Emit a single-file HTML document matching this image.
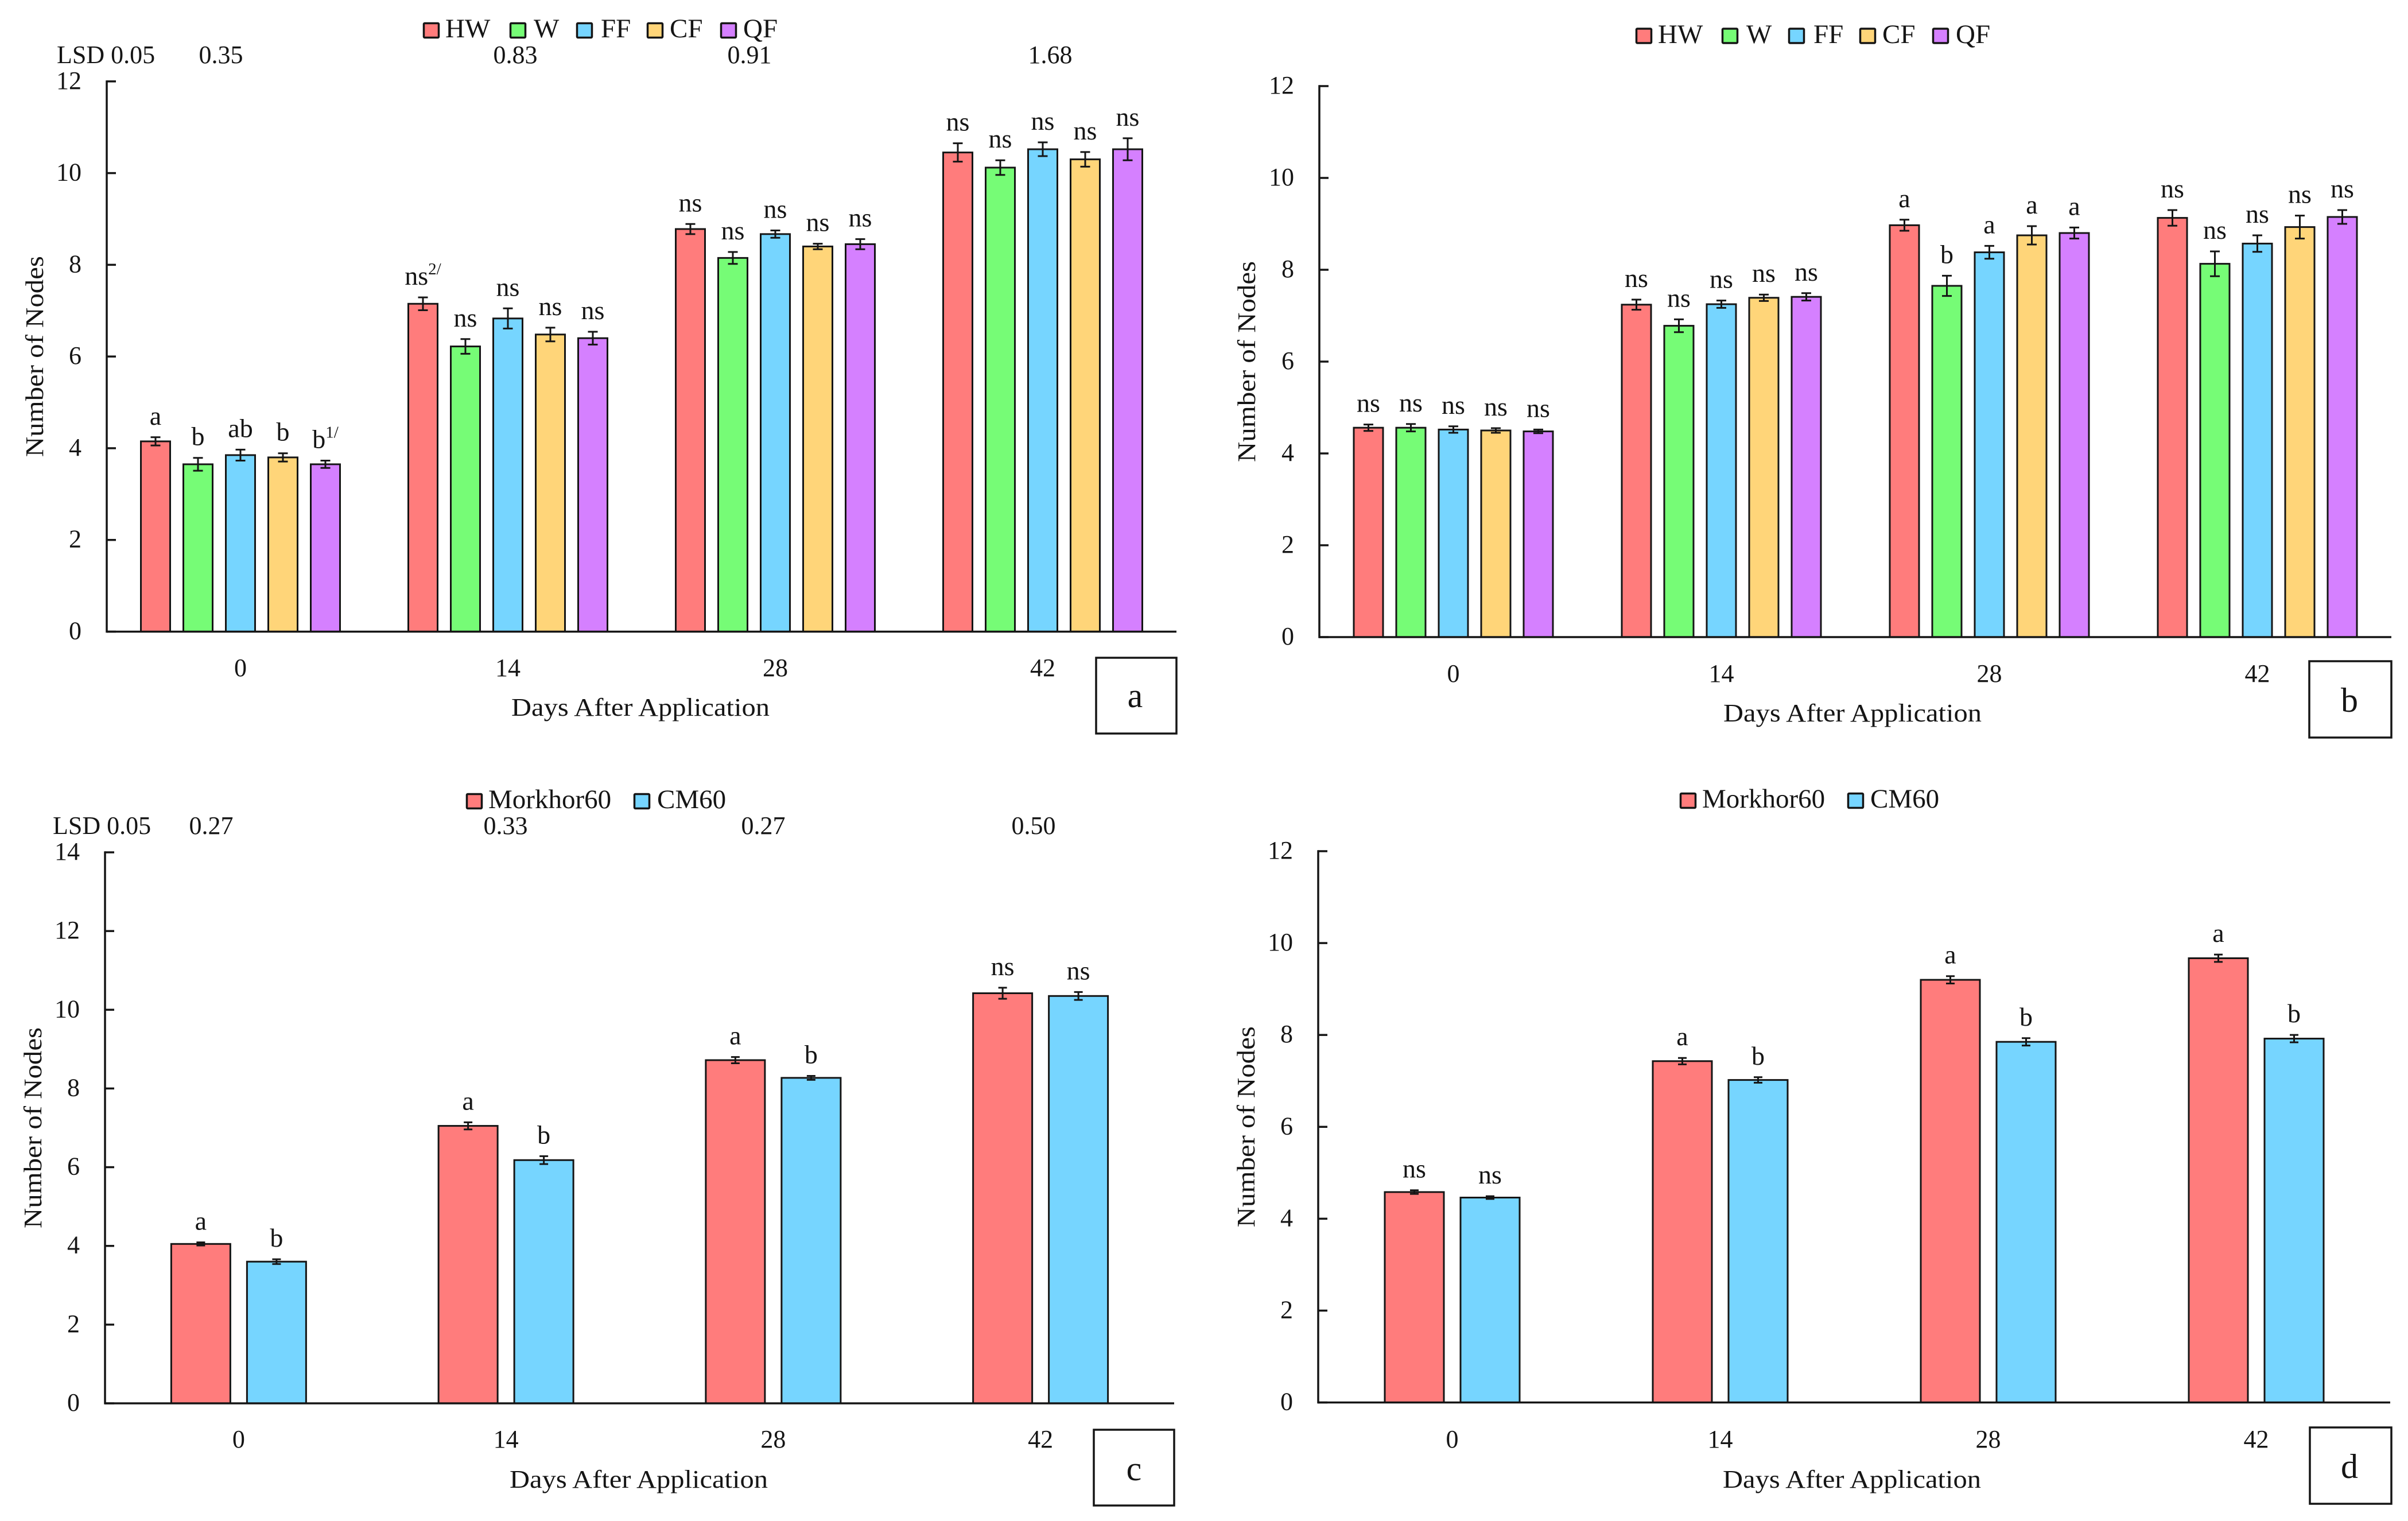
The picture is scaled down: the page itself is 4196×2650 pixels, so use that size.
<!DOCTYPE html>
<html lang="en">
<head>
<meta charset="utf-8">
<title>Number of Nodes by Days After Application</title>
<style>
html,body{margin:0;padding:0;background:#fff;width:4196px;height:2650px;overflow:hidden}
svg{display:block}
text{font-family:"Liberation Serif",serif;fill:#151515}
</style>
</head>
<body>
<svg id="chart" xmlns="http://www.w3.org/2000/svg" width="4196" height="2650" viewBox="0 0 4196 2650"></svg>
<script>
// ---- shared categories ----
const categories = ['0', '14', '28', '42'];
const seriesFive = ['HW', 'W', 'FF', 'CF', 'QF'];
const seriesTwo = ['Morkhor60', 'CM60'];
const ticksTwelve = [0, 2, 4, 6, 8, 10, 12];
const ticksFourteen = [0, 2, 4, 6, 8, 10, 12, 14];

// ---- panel a ----
const aHW = [4.15, 7.15, 8.78, 10.45];
const aW  = [3.65, 6.22, 8.15, 10.12];
const aFF = [3.85, 6.83, 8.67, 10.52];
const aCF = [3.80, 6.48, 8.40, 10.30];
const aQF = [3.65, 6.40, 8.45, 10.52];
const aErrHW = [0.09, 0.14, 0.11, 0.20];
const aErrW  = [0.14, 0.16, 0.13, 0.16];
const aErrFF = [0.12, 0.22, 0.08, 0.15];
const aErrCF = [0.09, 0.15, 0.06, 0.16];
const aErrQF = [0.08, 0.14, 0.11, 0.24];
const aSigHW = ['a', 'ns^2/', 'ns', 'ns'];
const aSigW  = ['b', 'ns', 'ns', 'ns'];
const aSigFF = ['ab', 'ns', 'ns', 'ns'];
const aSigCF = ['b', 'ns', 'ns', 'ns'];
const aSigQF = ['b^1/', 'ns', 'ns', 'ns'];
const aLsd = ['0.35', '0.83', '0.91', '1.68'];

// ---- panel b ----
const bHW = [4.56, 7.24, 8.97, 9.13];
const bW  = [4.56, 6.78, 7.65, 8.13];
const bFF = [4.52, 7.25, 8.38, 8.57];
const bCF = [4.50, 7.39, 8.75, 8.93];
const bQF = [4.48, 7.41, 8.80, 9.15];
const bErrHW = [0.07, 0.11, 0.12, 0.17];
const bErrW  = [0.08, 0.14, 0.22, 0.27];
const bErrFF = [0.07, 0.08, 0.14, 0.18];
const bErrCF = [0.05, 0.07, 0.20, 0.25];
const bErrQF = [0.04, 0.08, 0.12, 0.15];
const bSigHW = ['ns', 'ns', 'a', 'ns'];
const bSigW  = ['ns', 'ns', 'b', 'ns'];
const bSigFF = ['ns', 'ns', 'a', 'ns'];
const bSigCF = ['ns', 'ns', 'a', 'ns'];
const bSigQF = ['ns', 'ns', 'a', 'ns'];

// ---- panel c ----
const cMorkhor = [4.05, 7.05, 8.72, 10.42];
const cCM = [3.60, 6.18, 8.27, 10.35];
const cErrMorkhor = [0.04, 0.09, 0.08, 0.14];
const cErrCM = [0.06, 0.10, 0.05, 0.10];
const cSigMorkhor = ['a', 'a', 'a', 'ns'];
const cSigCM = ['b', 'b', 'b', 'ns'];
const cLsd = ['0.27', '0.33', '0.27', '0.50'];

// ---- panel d ----
const dMorkhor = [4.58, 7.43, 9.20, 9.67];
const dCM = [4.46, 7.02, 7.85, 7.92];
const dErrMorkhor = [0.04, 0.07, 0.08, 0.08];
const dErrCM = [0.03, 0.06, 0.08, 0.08];
const dSigMorkhor = ['ns', 'a', 'a', 'a'];
const dSigCM = ['ns', 'b', 'b', 'b'];

const RED = '#FF7C7C', GREEN = '#76FC76', BLUE = '#76D5FF', ORANGE = '#FFD579', PURPLE = '#D580FF';
const INK = '#151515';
const root = document.getElementById('chart');

function make(parent, tag, attrs, txt) {
  const n = document.createElementNS('http://www.w3.org/2000/svg', tag);
  for (const k in attrs) n.setAttribute(k, attrs[k]);
  if (txt !== undefined) n.textContent = txt;
  parent.appendChild(n);
  return n;
}

function drawPanel(p) {
  const g = make(root, 'g', {});
  
  

  const yScale = v => p.yBase - (v / p.yMax) * (p.yBase - p.yTop);
  const xGroup = i => p.x0 + (i + 0.5) * (p.x1 - p.x0) / categories.length;
  const xBar = (i, s) => xGroup(i) + (s - (p.series.length - 1) / 2) * p.pitch;

  // bars, error bars, significance letters
  p.series.forEach((name, s) => {
    categories.forEach((cat, i) => {
      const v = p.values[s][i], e = p.errors[s][i];
      const cx = xBar(i, s), top = yScale(v), errTop = yScale(v + e), errBot = yScale(v - e);
      const bar = make(g, 'rect', {x: cx - p.barW / 2, y: top, width: p.barW, height: yScale(0) - top, fill: p.colors[s], stroke: INK, 'stroke-width': 3});
      
      
      const err = make(g, 'path', {d: 'M' + (cx - p.cap) + ' ' + errTop + 'H' + (cx + p.cap) + 'M' + cx + ' ' + errTop + 'V' + errBot + 'M' + (cx - p.cap) + ' ' + errBot + 'H' + (cx + p.cap), fill: 'none', stroke: INK, 'stroke-width': 3});
      
      
      const parts = p.sig[s][i].split('^');
      const lab = make(g, 'text', {x: cx, y: errTop - 22, 'text-anchor': 'middle', 'font-size': 46});
      
      
      make(lab, 'tspan', {}, parts[0]);
      if (parts[1]) make(lab, 'tspan', {dy: -18, 'font-size': 29}, parts[1]);
    });
  });

  // axes
  const yAxis = make(g, 'line', {x1: p.x0, x2: p.x0, y1: p.yTop - 1.7, y2: p.yBase + 1.7, stroke: INK, 'stroke-width': 3.5});
  
  
  const xAxis = make(g, 'line', {x1: p.x0, x2: p.x1, y1: p.yBase, y2: p.yBase, stroke: INK, 'stroke-width': 3.5});
  
  

  p.ticks.forEach(t => {
    const tick = make(g, 'line', {x1: p.x0, x2: p.x0 + 16, y1: yScale(t), y2: yScale(t), stroke: INK, 'stroke-width': 3.5});
    
    
    const lab = make(g, 'text', {x: p.x0 - 44, y: yScale(t) + 13, 'text-anchor': 'end', 'font-size': 44}, String(t));
    
    
  });

  categories.forEach((cat, i) => {
    const lab = make(g, 'text', {x: xGroup(i), y: p.xLabelY, 'text-anchor': 'middle', 'font-size': 44}, cat);
    
    
  });

  const xTitle = make(g, 'text', {x: p.xTitleX, y: p.xTitleY, 'text-anchor': 'middle', 'font-size': 44, textLength: 450, lengthAdjust: 'spacingAndGlyphs'}, 'Days After Application');
  
  

  const yMid = (p.yTop + p.yBase) / 2;
  const yTitle = make(g, 'text', {transform: 'translate(' + p.yTitleX + ' ' + yMid + ') rotate(-90)', 'text-anchor': 'middle', 'font-size': 44, textLength: 350, lengthAdjust: 'spacingAndGlyphs'}, 'Number of Nodes');
  
  

  // panel letter box
  const box = make(g, 'rect', {x: p.box.x, y: p.box.y, width: p.box.w, height: p.box.h, fill: '#fff', stroke: INK, 'stroke-width': 3.5});
  
  
  const letter = make(g, 'text', {x: p.box.tx, y: p.box.ty, 'text-anchor': 'middle', 'font-size': 60}, p.id);
  
  

  return g;
}

function legendEntry(g, panelId, name, color, swatchX, swatchY, textX, textY) {
  const sw = make(g, 'rect', {x: swatchX + 1.5, y: swatchY + 1.5, width: 26, height: 25, fill: color, stroke: INK, 'stroke-width': 3.5, rx: 1.5});
  
  
  const t = make(g, 'text', {x: textX, y: textY, 'font-size': 47}, name);
  
  
}

function lsdLabel(g, panelId, text, x, y, anchor) {
  const t = make(g, 'text', {x: x, y: y, 'text-anchor': anchor, 'font-size': 44}, text);
  
  
}

const fiveColors = [RED, GREEN, BLUE, ORANGE, PURPLE];
const twoColors = [RED, BLUE];
const fiveGeom = {pitch: 74, barW: 51, cap: 8.5};
const twoGeom = {pitch: 132, barW: 103, cap: 7.5};

const gA = drawPanel(Object.assign({
  id: 'a', x0: 186, x1: 2050, yTop: 141.8, yBase: 1100.5, yMax: 12, ticks: ticksTwelve,
  series: seriesFive, colors: fiveColors,
  values: [aHW, aW, aFF, aCF, aQF], errors: [aErrHW, aErrW, aErrFF, aErrCF, aErrQF],
  sig: [aSigHW, aSigW, aSigFF, aSigCF, aSigQF],
  xLabelY: 1178, xTitleX: 1116, xTitleY: 1247, yTitleX: 75,
  box: {x: 1910, y: 1146, w: 140, h: 132, tx: 1978, ty: 1232}
}, fiveGeom));

const gB = drawPanel(Object.assign({
  id: 'b', x0: 2299, x1: 4167, yTop: 150, yBase: 1110, yMax: 12, ticks: ticksTwelve,
  series: seriesFive, colors: fiveColors,
  values: [bHW, bW, bFF, bCF, bQF], errors: [bErrHW, bErrW, bErrFF, bErrCF, bErrQF],
  sig: [bSigHW, bSigW, bSigFF, bSigCF, bSigQF],
  xLabelY: 1188, xTitleX: 3228, xTitleY: 1257, yTitleX: 2187,
  box: {x: 4024, y: 1152, w: 143, h: 133, tx: 4094, ty: 1240}
}, fiveGeom));

const gC = drawPanel(Object.assign({
  id: 'c', x0: 183, x1: 2046, yTop: 1485, yBase: 2445, yMax: 14, ticks: ticksFourteen,
  series: seriesTwo, colors: twoColors,
  values: [cMorkhor, cCM], errors: [cErrMorkhor, cErrCM],
  sig: [cSigMorkhor, cSigCM],
  xLabelY: 2522, xTitleX: 1113, xTitleY: 2592, yTitleX: 72,
  box: {x: 1906, y: 2491, w: 140, h: 132, tx: 1976, ty: 2579}
}, twoGeom));

const gD = drawPanel(Object.assign({
  id: 'd', x0: 2297, x1: 4165, yTop: 1483, yBase: 2443.5, yMax: 12, ticks: ticksTwelve,
  series: seriesTwo, colors: twoColors,
  values: [dMorkhor, dCM], errors: [dErrMorkhor, dErrCM],
  sig: [dSigMorkhor, dSigCM],
  xLabelY: 2522, xTitleX: 3227, xTitleY: 2592, yTitleX: 2186,
  box: {x: 4025, y: 2487, w: 142, h: 133, tx: 4094, ty: 2575}
}, twoGeom));

// legends
legendEntry(gA, 'a', 'HW', RED, 737, 39, 776, 65);
legendEntry(gA, 'a', 'W', GREEN, 888, 39, 930, 65);
legendEntry(gA, 'a', 'FF', BLUE, 1004, 39, 1047, 65);
legendEntry(gA, 'a', 'CF', ORANGE, 1127, 39, 1167, 65);
legendEntry(gA, 'a', 'QF', PURPLE, 1255, 39, 1295, 65);

legendEntry(gB, 'b', 'HW', RED, 2850, 48.5, 2889, 75);
legendEntry(gB, 'b', 'W', GREEN, 3000, 48.5, 3043, 75);
legendEntry(gB, 'b', 'FF', BLUE, 3116, 48.5, 3160, 75);
legendEntry(gB, 'b', 'CF', ORANGE, 3240, 48.5, 3280, 75);
legendEntry(gB, 'b', 'QF', PURPLE, 3367, 48.5, 3408, 75);

legendEntry(gC, 'c', 'Morkhor60', RED, 812, 1382, 851, 1408);
legendEntry(gC, 'c', 'CM60', BLUE, 1104, 1382, 1145, 1408);

legendEntry(gD, 'd', 'Morkhor60', RED, 2927, 1381, 2966, 1407);
legendEntry(gD, 'd', 'CM60', BLUE, 3219, 1381, 3259, 1407);

// LSD rows
lsdLabel(gA, 'a', 'LSD 0.05', 99, 110, 'start');
lsdLabel(gA, 'a', aLsd[0], 385, 110, 'middle');
lsdLabel(gA, 'a', aLsd[1], 898, 110, 'middle');
lsdLabel(gA, 'a', aLsd[2], 1306, 110, 'middle');
lsdLabel(gA, 'a', aLsd[3], 1830, 110, 'middle');

lsdLabel(gC, 'c', 'LSD 0.05', 92, 1453, 'start');
lsdLabel(gC, 'c', cLsd[0], 368, 1453, 'middle');
lsdLabel(gC, 'c', cLsd[1], 881, 1453, 'middle');
lsdLabel(gC, 'c', cLsd[2], 1330, 1453, 'middle');
lsdLabel(gC, 'c', cLsd[3], 1801, 1453, 'middle');
</script>
</body>
</html>
